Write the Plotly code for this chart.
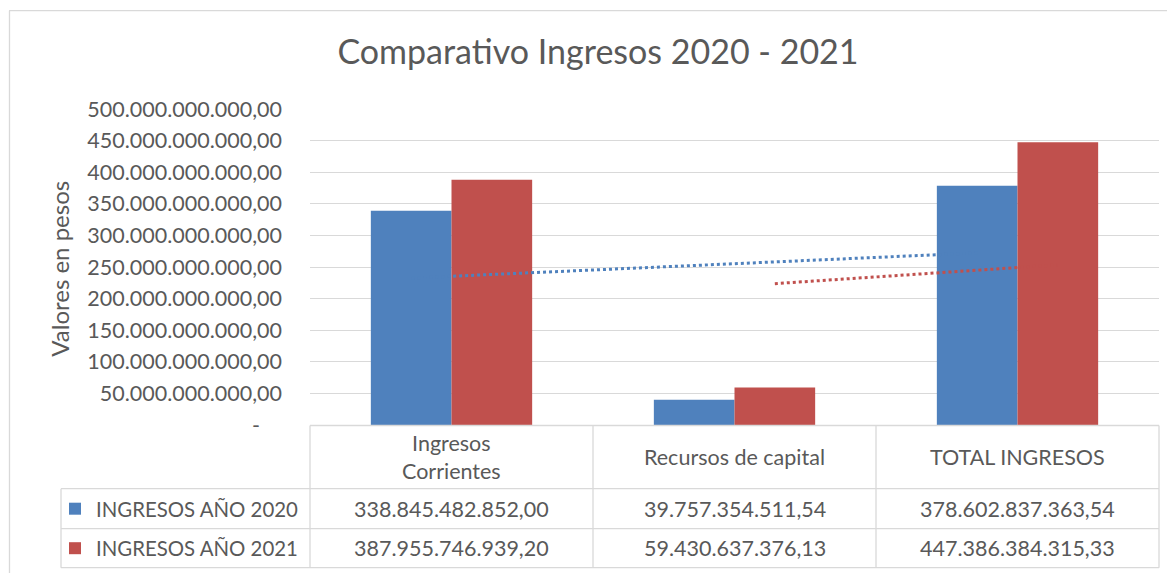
import numpy as np
import plotly.graph_objects as go

# ---------------- data ----------------
categories = ["Ingresos<br>Corrientes", "Recursos de capital", "TOTAL INGRESOS"]
series_names = ["INGRESOS AÑO 2020", "INGRESOS AÑO 2021"]
ingresos_2020 = [338845482852.00, 39757354511.54, 378602837363.54]
ingresos_2021 = [387955746939.20, 59430637376.13, 447386384315.33]
tick_values = [0, 50e9, 100e9, 150e9, 200e9, 250e9, 300e9, 350e9, 400e9, 450e9, 500e9]

# ---------------- styles ----------------
BLUE = "#4f81bd"
RED = "#c0504d"
TXT = "#595959"
GRID = "#d9d9d9"
FONT = "Lato"

W, H = 1175, 573
OFF = 8  # page body margin
# plot area in reference (page) pixels
RL, RR, RT, RB = 310, 1159, 109.3, 425.3
L, R, T, B = RL - OFF, RR - OFF, RT - OFF, RB - OFF


def fmt(v):
    s = f"{v:,.2f}"
    return s.replace(",", "X").replace(".", ",").replace("X", ".")


def px(x):
    return (x - RL) / (RR - RL)


def py(y):
    return (RB - y) / (RB - RT)


ticktext = [fmt(v) if v else "-\u00a0\u00a0\u00a0\u00a0" for v in tick_values]

x_pos = np.arange(len(categories))
bargap = 0.43
half = (1 - bargap) / 4  # offset of each bar center from category center

fig = go.Figure()
fig.add_bar(x=x_pos, y=ingresos_2020, name=series_names[0], marker_color=BLUE,
            marker_line_width=0)
fig.add_bar(x=x_pos, y=ingresos_2021, name=series_names[1], marker_color=RED,
            marker_line_width=0)

# blue: linear trendline
coef = np.polyfit(x_pos, ingresos_2020, 1)
fig.add_scatter(x=x_pos - half, y=np.polyval(coef, x_pos), mode="lines",
                line=dict(color=BLUE, width=3, dash="dot"), showlegend=False,
                hoverinfo="skip")
# red: 2-period moving average
ma = [(ingresos_2021[i - 1] + ingresos_2021[i]) / 2 for i in range(1, len(ingresos_2021))]
fig.add_scatter(x=x_pos[1:] + half, y=ma, mode="lines",
                line=dict(color=RED, width=3, dash="dot"), showlegend=False,
                hoverinfo="skip")

shapes = []
ann = []


def hline(y, x0, x1, color=GRID):
    shapes.append(dict(type="line", xref="paper", yref="paper", x0=px(x0), x1=px(x1),
                       y0=py(y), y1=py(y), line=dict(color=color, width=1.3)))


def vline(x, y0, y1, color=GRID):
    shapes.append(dict(type="line", xref="paper", yref="paper", x0=px(x), x1=px(x),
                       y0=py(y0), y1=py(y1), line=dict(color=color, width=1.3)))


# chart border
vline(9.5, 11, 600)
hline(11, 9, 1200)

# data table
col_edges = [310, 593, 876, 1159]
row_y = [425.8, 489, 529, 568]
hline(row_y[0], 310, 1159)
for y in row_y[1:]:
    hline(y, 61, 1159)
for x in col_edges:
    vline(x, row_y[0], row_y[-1])
vline(61, row_y[1], row_y[-1])

col_centers = [(col_edges[i] + col_edges[i + 1]) / 2 for i in range(3)]
for c, cat in zip(col_centers, categories):
    ann.append(dict(text=cat, x=px(c), y=py(457), xref="paper", yref="paper",
                    showarrow=False, xanchor="center", yanchor="middle",
                    font=dict(family=FONT, size=21.5, color=TXT)))

rows = [(series_names[0], ingresos_2020, BLUE, 509), (series_names[1], ingresos_2021, RED, 548.5)]
for name, vals, color, yc in rows:
    shapes.append(dict(type="rect", xref="paper", yref="paper", x0=px(69), x1=px(81),
                       y0=py(yc - 6), y1=py(yc + 6), fillcolor=color, line=dict(width=0)))
    ann.append(dict(text=name, x=px(94), y=py(yc), xref="paper", yref="paper",
                    showarrow=False, xanchor="left", yanchor="middle",
                    font=dict(family=FONT, size=20.4, color=TXT)))
    for c, v in zip(col_centers, vals):
        ann.append(dict(text=fmt(v), x=px(c), y=py(yc), xref="paper", yref="paper",
                        showarrow=False, xanchor="center", yanchor="middle",
                        font=dict(family=FONT, size=21.5, color=TXT)))

# y-axis title
ann.append(dict(text="Valores en pesos", x=px(60), y=py(269), xref="paper", yref="paper",
                showarrow=False, textangle=-90, xanchor="center", yanchor="middle",
                font=dict(family=FONT, size=24, color=TXT)))

fig.update_layout(
    width=W, height=H,
    margin=dict(l=L, r=W - R, t=T, b=H - B),
    paper_bgcolor="white", plot_bgcolor="white",
    barmode="group", bargap=bargap, bargroupgap=0,
    showlegend=False,
    title=dict(text="Comparativo Ingresos 2020 - 2021", x=(598 - OFF) / W, xanchor="center",
               y=1 - (52 - OFF) / H, yanchor="middle",
               font=dict(family=FONT, size=34, color=TXT)),
    xaxis=dict(range=[-0.5, 2.5], showticklabels=False, showgrid=False, zeroline=False,
               showline=False, fixedrange=True),
    yaxis=dict(range=[0, 500e9], tickvals=tick_values, ticktext=ticktext,
               showgrid=True, gridcolor=GRID, gridwidth=1.3, zeroline=False,
               showline=False, ticks="", ticklabelstandoff=27,
               tickfont=dict(family=FONT, size=21.5, color=TXT)),
    shapes=shapes, annotations=ann,
)

fig.write_html("out.html")
